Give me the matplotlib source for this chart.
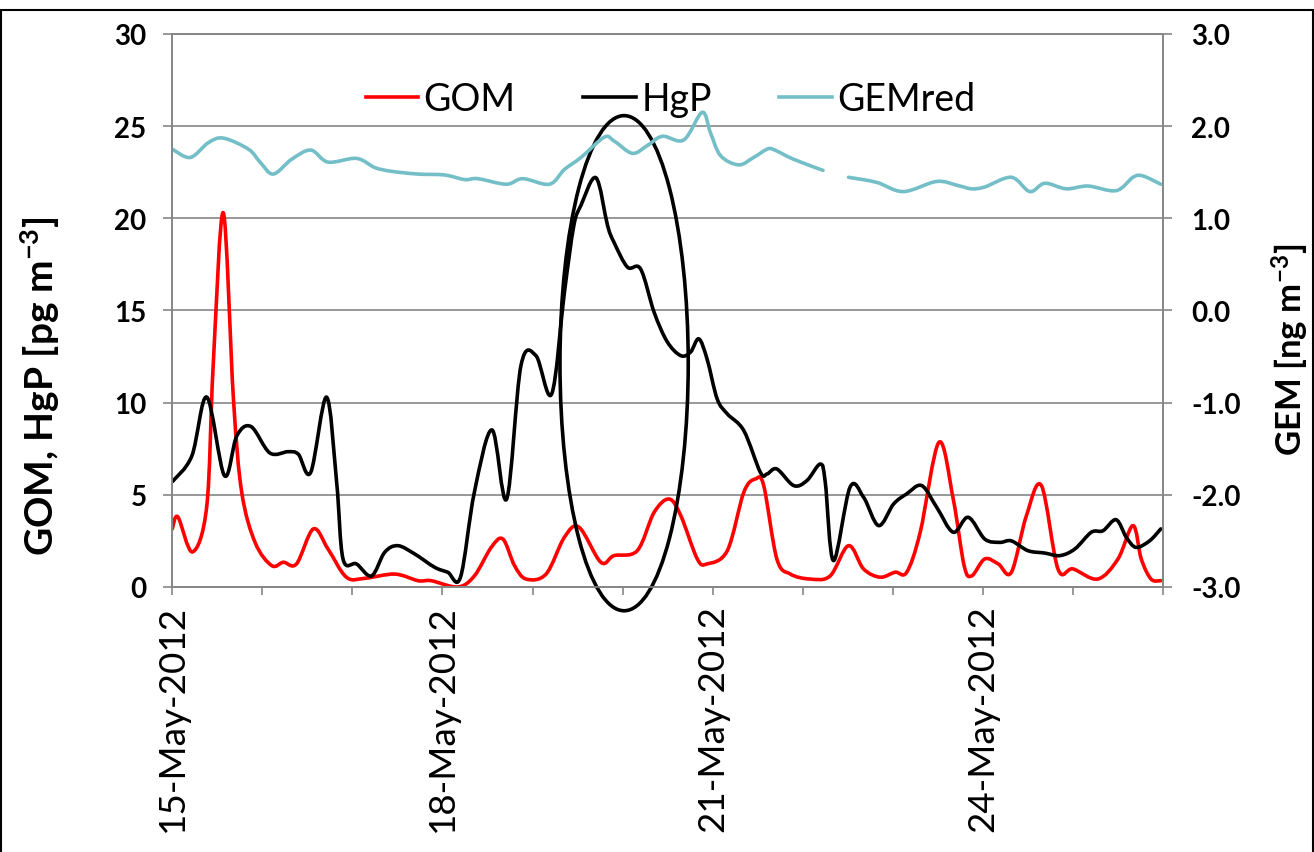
import numpy as np
import pandas as pd
import matplotlib
matplotlib.use('Agg')
import matplotlib.pyplot as plt
import matplotlib.dates as mdates
from matplotlib.patches import Ellipse, Rectangle, PathPatch
from matplotlib.path import Path
from matplotlib.lines import Line2D

plt.rcParams['font.family'] = ['Lato', 'DejaVu Sans']
plt.rcParams['mathtext.fontset'] = 'custom'
plt.rcParams['mathtext.rm'] = 'Lato:bold'
plt.rcParams['mathtext.default'] = 'rm'

start = pd.Timestamp('2012-05-15')

# hours after 15-May-2012 00:00
gom_hours = [0.0, 1.5, 5.4, 9.2, 10.9, 13.6, 16.3, 18.5, 22.1, 26.5,
             29.6, 33.1, 37.6, 41.5, 46.4, 51.3, 59.3, 65.5, 69.0, 76.1,
             80.5, 85.0, 88.1, 91.2, 94.3, 99.6, 104.5, 108.4, 114.2, 117.7,
             123.9, 128.4, 132.4, 135.5, 139.9, 142.5, 147.9, 152.3, 155.4, 157.6,
             161.1, 164.7, 170.0, 175.3, 180.2, 184.2, 188.6, 192.6, 195.7, 199.3,
             204.3, 208.1, 211.0, 213.0, 216.5, 220.1, 223.6, 227.6, 231.6, 236.0,
             240.0, 246.6, 252.0, 256.0, 258.2, 260.8, 263.4]
gom = [3.15, 3.8, 1.9, 4.4, 12.0, 20.3, 10.2, 5.15, 2.4, 1.16,
       1.34, 1.25, 3.15, 2.06, 0.53, 0.47, 0.7, 0.34, 0.34, 0.0,
       0.6, 2.15, 2.6, 1.16, 0.43, 0.7, 2.7, 3.24, 1.34, 1.7,
       1.97, 4.05, 4.77, 3.87, 1.52, 1.25, 1.97, 5.14, 5.86, 5.5,
       1.52, 0.7, 0.43, 0.6, 2.24, 0.98, 0.53, 0.8, 0.8, 2.97,
       7.85, 4.77, 1.16, 0.6, 1.52, 1.25, 0.8, 3.87, 5.5, 0.98,
       0.98, 0.43, 1.52, 3.33, 1.52, 0.43, 0.34]

hgp_hours = [0.0, 5.2, 9.2, 13.9, 17.2, 21.0, 26.0, 30.9, 33.6, 36.9,
             41.1, 43.8, 45.5, 49.1, 53.1, 56.6, 60.1, 64.6, 69.9, 73.4,
             76.8, 80.5, 85.2, 89.1, 92.9, 96.9, 101.1, 104.5, 107.0, 108.9,
             112.9, 116.0, 117.7, 121.3, 124.8, 128.4, 131.9, 135.5, 138.1, 140.3,
             142.5, 145.2, 147.9, 152.3, 156.7, 158.5, 161.1, 165.6, 169.1, 172.7,
             174.0, 176.2, 180.6, 184.2, 188.2, 192.2, 195.7, 199.7, 203.7, 208.1,
             212.1, 216.5, 220.5, 223.6, 228.0, 232.5, 236.5, 240.5, 244.9, 248.0,
             251.5, 254.2, 256.8, 260.4, 263.4]
hgp = [5.71, 7.1, 10.3, 6.04, 8.2, 8.7, 7.27, 7.34, 7.2, 6.22,
       10.3, 5.68, 1.52, 1.25, 0.6, 1.88, 2.24, 1.79, 1.07, 0.8,
       0.53, 5.14, 8.52, 4.77, 12.0, 12.55, 10.47, 16.0, 19.6, 20.7,
       22.2, 19.6, 18.7, 17.35, 17.25, 14.9, 13.3, 12.55, 12.74, 13.46,
       12.37, 10.2, 9.39, 8.48, 6.22, 6.13, 6.4, 5.5, 5.77, 6.67,
       5.68, 1.43, 5.41, 4.87, 3.33, 4.5, 5.05, 5.5, 4.32, 2.97,
       3.78, 2.6, 2.42, 2.5, 1.97, 1.84, 1.7, 2.06, 2.97, 3.05,
       3.65, 2.7, 2.15, 2.5, 3.15]

gem_hours = [0.0, 4.8, 9.6, 13.6, 20.3, 23.4, 26.9, 31.8, 36.9, 41.5,
             49.1, 54.0, 58.4, 65.5, 72.6, 77.9, 81.4, 89.0, 93.4, 100.5,
             104.5, 108.9, 115.1, 117.7, 122.6, 126.6, 130.6, 136.3, 141.2, 143.4,
             146.1, 150.9, 154.9, 158.5, 160.3, 165.6, 173.4, 176.8, 180.2, 187.7,
             194.8, 203.7, 209.4, 213.0, 216.5, 223.6, 228.5, 232.5, 238.2, 244.0,
             251.5, 256.0, 258.6, 263.4]
gem = [1.75, 1.66, 1.82, 1.87, 1.75, 1.61, 1.48, 1.64, 1.74, 1.61,
       1.65, 1.55, 1.51, 1.48, 1.47, 1.42, 1.43, 1.37, 1.43, 1.37,
       1.53, 1.66, 1.88, 1.84, 1.705, 1.79, 1.89, 1.85, 2.15, 1.93,
       1.68, 1.58, 1.66, 1.75, 1.745, 1.64, 1.52, np.nan, 1.445, 1.39,
       1.29, 1.40, 1.355, 1.32, 1.34, 1.445, 1.29, 1.38, 1.32, 1.35,
       1.30, 1.445, 1.46, 1.37]

# highlighted period (ellipse), in hours / left-axis units
ell_hour, ell_y = 120.4, 12.14
ell_width_days, ell_height = 1.424, 26.86

grid_col = '#868686'
red, cyan = '#FF0000', '#74BFC7'


def to_num(hours):
    t = start + pd.to_timedelta(np.array(hours), unit='h')
    return mdates.date2num(t.to_pydatetime())


def smooth_line(ax, hours, vals, color):
    # Excel style smoothed line: bezier curve through the data points
    x = to_num(hours)
    y = np.array(vals, dtype=float)
    ok = ~np.isnan(y)
    verts, codes = [], []
    i = 0
    while i < len(y):
        if not ok[i]:
            i += 1
            continue
        j = i
        while j < len(y) and ok[j]:
            j += 1
        P = np.column_stack([x[i:j], y[i:j]])
        n = len(P)
        verts.append(P[0])
        codes.append(Path.MOVETO)
        for k in range(n - 1):
            p0 = P[k - 1] if k > 0 else P[k]
            p3 = P[k + 2] if k + 2 < n else P[k + 1]
            verts += [P[k] + (P[k + 1] - p0) / 6, P[k + 1] - (p3 - P[k]) / 6, P[k + 1]]
            codes += [Path.CURVE4] * 3
        i = j
    ax.add_patch(PathPatch(Path(verts, codes), fill=False, ec=color, lw=2.6,
                           capstyle='round', joinstyle='round'))


fig = plt.figure(figsize=(13.14, 8.53), dpi=100)
ax1 = fig.add_axes([0.1311, 0.3107, 0.754, 0.6483])
ax2 = ax1.twinx()

smooth_line(ax1, gom_hours, gom, red)
smooth_line(ax1, hgp_hours, hgp, 'black')
smooth_line(ax2, gem_hours, gem, cyan)

cx = mdates.date2num(start + pd.Timedelta(hours=ell_hour))
ax1.add_patch(Ellipse((cx, ell_y), ell_width_days, ell_height, fill=False,
                      ec='black', lw=2.6, clip_on=False, zorder=3))

ax1.set_xlim(start, start + pd.Timedelta(days=11))
ax1.set_ylim(0, 30)
ax2.set_ylim(-3, 3)
ax1.set_yticks(np.arange(0, 31, 5))
ax2.set_yticks(np.arange(-3, 3.1, 1))
ax2.yaxis.set_major_formatter(plt.FuncFormatter(lambda v, p: f'{v:.1f}'))

ax1.xaxis.set_major_locator(mdates.DayLocator(bymonthday=[15, 18, 21, 24]))
ax1.xaxis.set_minor_locator(mdates.DayLocator())
ax1.xaxis.set_major_formatter(mdates.DateFormatter('%d-%b-%Y'))

ax1.grid(axis='y', color=grid_col, lw=1.2)
ax1.set_axisbelow(True)

for ax in (ax1, ax2):
    for s in ax.spines.values():
        s.set_color(grid_col)
        s.set_linewidth(1.2)

ax1.tick_params(axis='y', direction='out', length=6.5, width=1.2, color=grid_col,
                labelsize=20, pad=12)
ax2.tick_params(axis='y', direction='out', length=6.5, width=1.2, color=grid_col,
                labelsize=20, pad=14)
ax1.tick_params(axis='x', which='both', direction='out', length=6, width=1.2,
                color=grid_col, labelsize=26.5, labelrotation=90, pad=6)
for lab in ax1.get_yticklabels() + ax2.get_yticklabels():
    lab.set_fontweight('bold')

fig.text(40 / 1314, 1 - 386 / 853, 'GOM, HgP [pg m$^{-3}$]', rotation=90,
         ha='center', va='center', fontsize=28, fontweight='bold')
fig.text(1290 / 1314, 1 - 350 / 853, 'GEM [ng m$^{-3}$]', rotation=90,
         ha='center', va='center', fontsize=25, fontweight='bold')

handles = [Line2D([], [], color=red, lw=2.6, label='GOM'),
           Line2D([], [], color='black', lw=2.6, label='HgP'),
           Line2D([], [], color=cyan, lw=2.6, label='GEMred')]
ax2.legend(handles=handles, loc='center', bbox_to_anchor=(0.503, 0.882),
           ncol=3, frameon=False, fontsize=27, handlelength=1.4,
           handletextpad=0.15, columnspacing=1.8)

fig.add_artist(Rectangle((0.0008, -0.01), 0.9984, 0.997, transform=fig.transFigure,
                         fill=False, ec='black', lw=1.5))

fig.savefig('out.png', dpi=100)
